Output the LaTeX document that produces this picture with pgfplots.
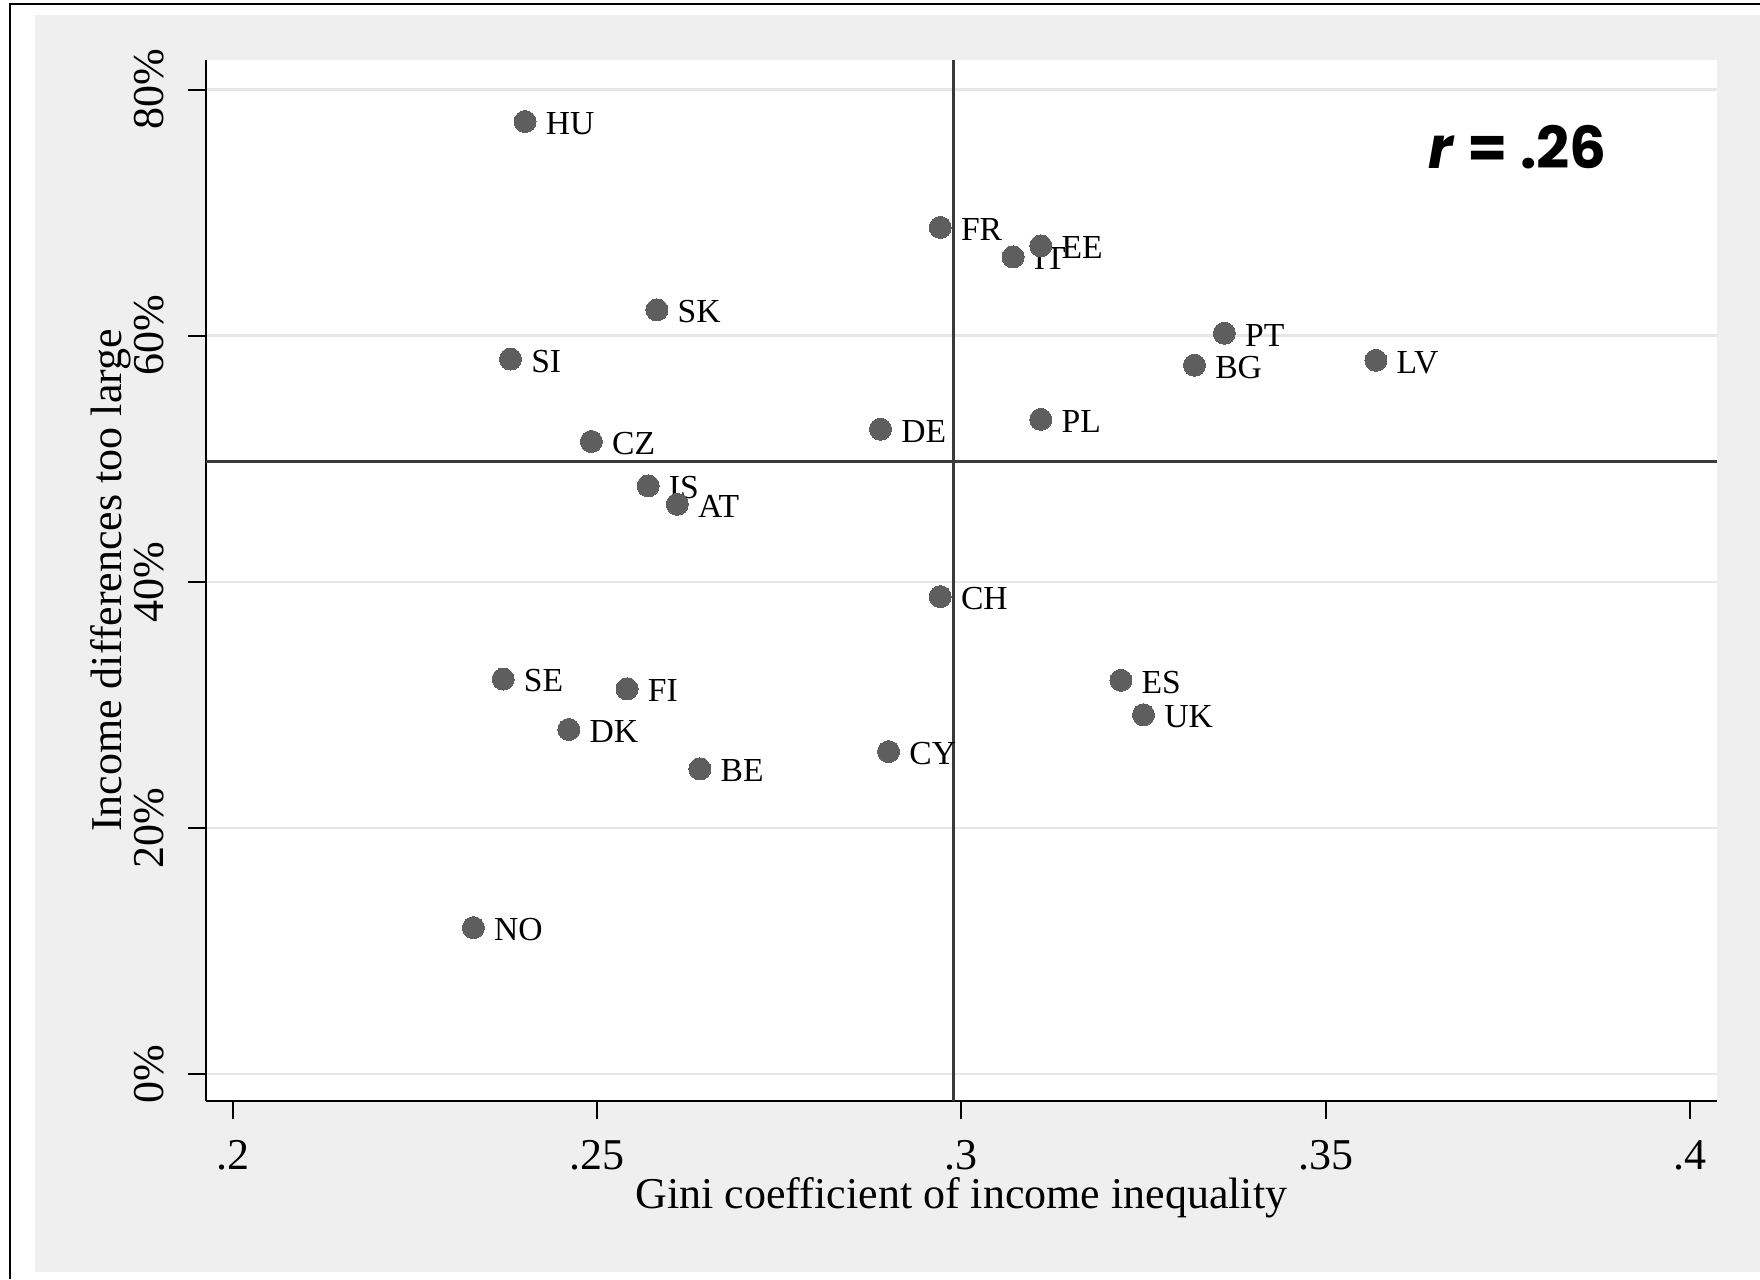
\documentclass[border=0pt]{standalone}
\usepackage{fontspec}
\setmainfont{Liberation Serif}
\newfontfamily\rfont{Poppins}
\usepackage{pgfplots}
\pgfplotsset{compat=1.18}
\usepackage{pgfplotstable}
\definecolor{bggray}{HTML}{EFEFEF}
\definecolor{gridgray}{HTML}{E6E6E6}
\definecolor{mk}{HTML}{5E5E5E}
\definecolor{refline}{HTML}{3A3A3A}

\pgfplotstableread{
x y lab
0.2401 77.4 HU
0.2971 68.8 FR
0.3071 66.4 IT
0.3109 67.3 EE
0.2582 62.1 SK
0.3361 60.2 PT
0.2381 58.1 SI
0.3320 57.6 BG
0.3569 58.0 LV
0.3109 53.2 PL
0.2889 52.4 DE
0.2492 51.4 CZ
0.2570 47.8 IS
0.2610 46.3 AT
0.2971 38.8 CH
0.2371 32.1 SE
0.2541 31.3 FI
0.3219 32.0 ES
0.3250 29.2 UK
0.2461 28.0 DK
0.2900 26.2 CY
0.2641 24.8 BE
0.2330 11.9 NO
}\datatable

\begin{document}
\begin{tikzpicture}
\fill[white] (-51.5pt,-44.5pt) rectangle (388.5pt,275.25pt);
\fill[bggray] (-42.75pt,-42.75pt) rectangle (388.5pt,271.5pt);
\draw[black, line width=0.6pt] (-49pt,-44.5pt) -- (-49pt,274.25pt) -- (388.5pt,274.25pt);
\begin{axis}[
  width=377.75pt, height=260.25pt, scale only axis,
  xmin=0.1963, xmax=0.40373, ymin=-2.19, ymax=82.4,
  axis background/.style={fill=white},
  axis lines*=left,
  axis line style={-, black, line width=0.6pt},
  tick align=outside,
  major tick length=4.6pt,
  tick style={black, line width=0.5pt},
  xtick={0.2,0.25,0.3,0.35,0.4},
  xticklabels={.2,.25,.3,.35,.4},
  ytick={0,20,40,60,80},
  yticklabels={0\%,20\%,40\%,60\%,80\%},
  /pgf/number format/assume math mode=true,
  ticklabel style={font=\fontsize{11}{13}\selectfont},
  xticklabel style={anchor=north, inner sep=0pt},
  xticklabel shift=5.0pt,
  yticklabel style={rotate=90, anchor=south, inner sep=0pt},
  yticklabel shift=5.6pt,
  ymajorgrids,
  grid style={gridgray, line width=0.6pt},
  xlabel={Gini coefficient of income inequality},
  ylabel={Income differences too large},
  label style={font=\fontsize{11}{13}\selectfont},
  xlabel style={at={([yshift=-19pt]rel axis cs:0.5,0)}, anchor=north, inner sep=0pt},
  ylabel style={at={([xshift=-29pt]rel axis cs:0,0.5)}, anchor=north, inner sep=0pt, rotate=0},
  clip=false,
]
\addplot[refline, line width=0.8pt, forget plot] coordinates {(0.2989,-2.19) (0.2989,82.4)};
\addplot[refline, line width=0.8pt, forget plot] coordinates {(0.1963,49.8) (0.40373,49.8)};
\addplot[only marks, mark=*, mark size=2.75pt, mark options={fill=mk, draw=mk, line width=0pt},
  nodes near coords, point meta=explicit symbolic,
  nodes near coords style={anchor=west, inner sep=0pt, xshift=5.2pt, yshift=-0.5pt,
    font=\fontsize{8.4}{10}\selectfont, text=black}]
  table[x=x, y=y, meta=lab] {\datatable};
\node[font=\rfont\fontsize{14.5}{17}\selectfont\bfseries] at (axis cs:0.3764,75.3) {\textit{r} = .26};
\end{axis}
\pgfresetboundingbox
\useasboundingbox (-51.5pt,-44.5pt) rectangle (388.5pt,275.25pt);
\end{tikzpicture}
\end{document}
